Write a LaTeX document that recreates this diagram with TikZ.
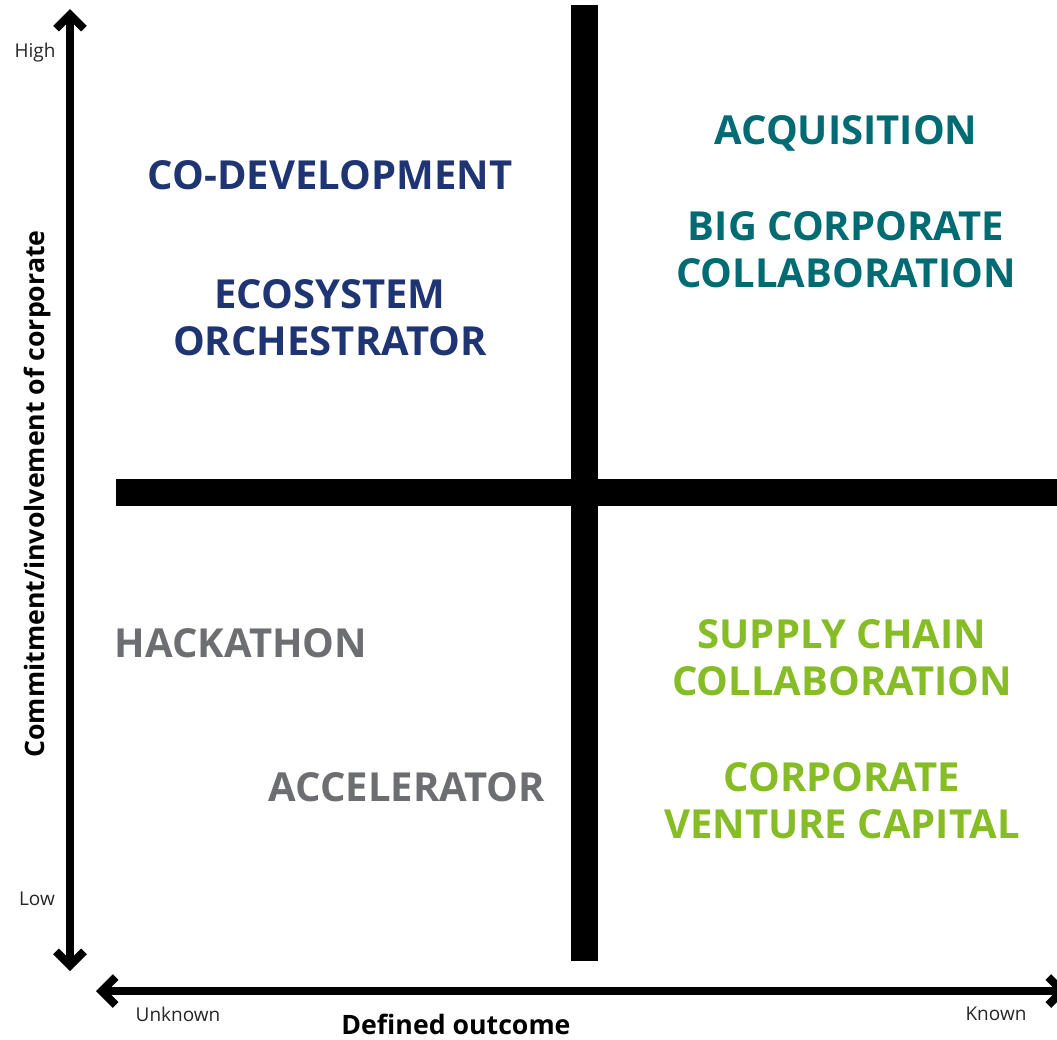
\documentclass[tikz,border=0pt]{standalone}
\usepackage{fontspec}
\setmainfont{Open Sans}
\usetikzlibrary{arrows.meta}
\definecolor{navy}{HTML}{1F3473}
\definecolor{teal}{HTML}{006B73}
\definecolor{leaf}{HTML}{86BC25}
\definecolor{slate}{HTML}{6D6E71}
\tikzset{
  quad/.style={font=\fontsize{40}{47}\selectfont\bfseries, align=center, inner sep=0pt},
  tick/.style={font=\fontsize{19}{22}\selectfont, text=black!85, inner sep=0pt},
  axistitle/.style={font=\fontsize{26.7}{31}\selectfont\bfseries, inner sep=0pt},
  axis/.style={line width=8pt, {Straight Barb[length=14pt,width=28pt]}-{Straight Barb[length=14pt,width=28pt]}},
  bar/.style={fill=black, draw=none}
}
\begin{document}
\begin{tikzpicture}[x=1pt,y=-1pt]
\useasboundingbox (0,0) rectangle (1057,1039);
\clip (0,0) rectangle (1057,1039);
\fill[white] (0,0) rectangle (1057,1039);

% quadrant divider
\path[bar] (571,5) rectangle (598,961);
\path[bar] (116,479) rectangle (1070,506);

% axes
\coordinate (ytop) at (70,9);
\coordinate (ybot) at (70,971);
\coordinate (xleft) at (96,991);
\coordinate (xright) at (1068,991);
\draw[axis] (ybot) -- (ytop);
\draw[axis] (xleft) -- (xright);

% axis labels
\node[tick] (high) at (35,53) {High};
\node[tick] (low) at (37,899) {Low};
\node[tick] (unknown) at (178,1014) {Unknown};
\node[tick] (known) at (996,1014) {Known};
\node[axistitle] (xtitle) at (456,1024) {Defined outcome};
\node[axistitle, rotate=90] (ytitle) at (37,494) {Commitment/involvement of corporate};

% upper left
\node[quad, text=navy] (codev) at (330,175) {CO-DEVELOPMENT};
\node[quad, text=navy] (eco) at (330,318) {ECOSYSTEM\\ORCHESTRATOR};
% upper right
\node[quad, text=teal] (acq) at (846,133) {ACQUISITION};
\node[quad, text=teal] (bigcorp) at (846,250) {BIG CORPORATE\\COLLABORATION};
% lower left
\node[quad, text=slate] (hack) at (241,643) {HACKATHON};
\node[quad, text=slate] (accel) at (407,787) {ACCELERATOR};
% lower right
\node[quad, text=leaf] (supply) at (842,658) {SUPPLY CHAIN\\COLLABORATION};
\node[quad, text=leaf] (cvc) at (842,801) {CORPORATE\\VENTURE CAPITAL};
\end{tikzpicture}
\end{document}
